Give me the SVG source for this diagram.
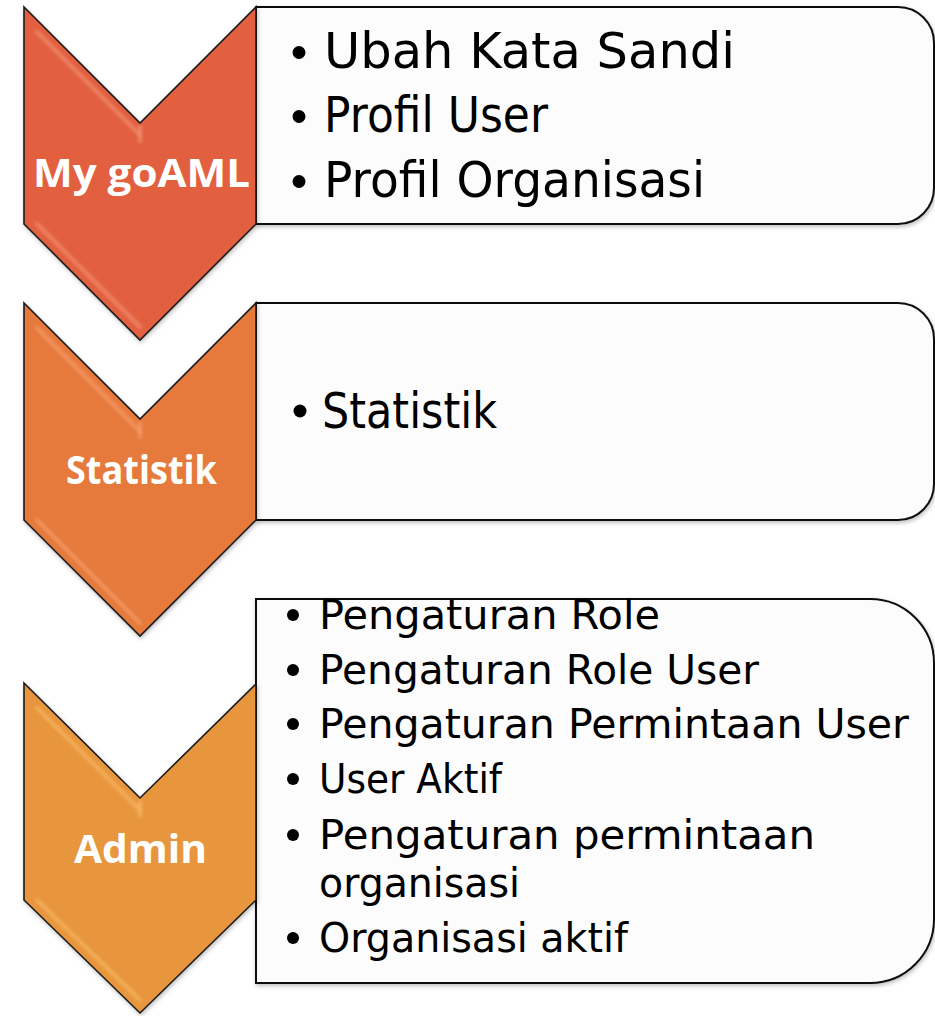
<svg xmlns="http://www.w3.org/2000/svg" width="935" height="1016" viewBox="0 0 935 1016">
  <defs>
    <filter id="shadow" x="-10%" y="-10%" width="120%" height="120%">
      <feDropShadow dx="1" dy="2" stdDeviation="2" flood-color="#000000" flood-opacity="0.25"/>
    </filter>
    <filter id="soft" x="-20%" y="-20%" width="140%" height="140%">
      <feGaussianBlur stdDeviation="1.4"/>
    </filter>
  </defs>
  <style>
    .chev { stroke: #1a1a1a; stroke-width: 1.6; stroke-linejoin: miter; }
    .box { fill: #fcfcfc; stroke: #111111; stroke-width: 2; }
    .hl { fill: none; stroke-width: 4; stroke-linecap: round; opacity: 0.55; }
    .lbl { font-family: "Open Sans", "DejaVu Sans", sans-serif; font-weight: bold; font-size: 40px; fill: #ffffff; }
    .t1 { font-family: "DejaVu Sans", "Liberation Sans", sans-serif; font-size: 49px; fill: #000000; }
    .t3 { font-family: "DejaVu Sans", "Liberation Sans", sans-serif; font-size: 40px; fill: #000000; }
    .dot { fill: #000000; }
  </style>

  <rect width="935" height="1016" fill="#ffffff"/>

  <!-- Node 1: My goAML -->
  <g id="node-mygoaml">
    <path class="box" filter="url(#shadow)" d="M256,7 H898 A36,36 0 0 1 934,43 V188 A36,36 0 0 1 898,224 H256 Z"/>
    <path class="chev" filter="url(#shadow)" fill="#e2603f" d="M24,7 L140,123 L256,7 L256,224 L140,340 L24,224 Z"/>
    <g filter="url(#soft)">
      <path class="hl" stroke="#f59a7c" d="M37,32 L140,135"/>
      <path class="hl" stroke="#f59a7c" d="M37,224 L140,327"/>
      <path class="hl" stroke="#f59a7c" d="M140,127 L140,141" opacity="0.4"/>
    </g>
    <text class="lbl" x="33" y="187" textLength="217" lengthAdjust="spacingAndGlyphs">My goAML</text>
    <circle class="dot" cx="299" cy="52.5" r="6.5"/>
    <text class="t1" x="324" y="68" textLength="411" lengthAdjust="spacingAndGlyphs">Ubah Kata Sandi</text>
    <circle class="dot" cx="299" cy="116.5" r="6.5"/>
    <text class="t1" x="324" y="132" textLength="224" lengthAdjust="spacingAndGlyphs">Profil User</text>
    <circle class="dot" cx="299" cy="181.5" r="6.5"/>
    <text class="t1" x="324" y="197" textLength="381" lengthAdjust="spacingAndGlyphs">Profil Organisasi</text>
  </g>

  <!-- Node 2: Statistik -->
  <g id="node-statistik">
    <path class="box" filter="url(#shadow)" d="M256,303 H898 A36,36 0 0 1 934,339 V484 A36,36 0 0 1 898,520 H256 Z"/>
    <path class="chev" filter="url(#shadow)" fill="#e67a3e" d="M24,303 L140,419 L256,303 L256,520 L140,636 L24,520 Z"/>
    <g filter="url(#soft)">
      <path class="hl" stroke="#f8a672" d="M37,328 L140,431"/>
      <path class="hl" stroke="#f8a672" d="M37,520 L140,623"/>
      <path class="hl" stroke="#f8a672" d="M140,423 L140,437" opacity="0.4"/>
    </g>
    <text class="lbl" x="66" y="484" textLength="151" lengthAdjust="spacingAndGlyphs">Statistik</text>
    <circle class="dot" cx="300" cy="411" r="6.5"/>
    <text class="t1" x="322" y="428" textLength="175" lengthAdjust="spacingAndGlyphs">Statistik</text>
  </g>

  <!-- Node 3: Admin -->
  <g id="node-admin">
    <path class="box" filter="url(#shadow)" d="M256,599 H870 A64,64 0 0 1 934,663 V919 A64,64 0 0 1 870,983 H256 Z"/>
    <path class="chev" filter="url(#shadow)" fill="#e8963c" d="M24,683 L140,798 L256,684 L256,900 L140,1013 L24,900 Z"/>
    <g filter="url(#soft)">
      <path class="hl" stroke="#fbbf6e" d="M37,708 L140,810"/>
      <path class="hl" stroke="#fbbf6e" d="M37,900 L140,1000"/>
      <path class="hl" stroke="#fbbf6e" d="M140,802 L140,816" opacity="0.4"/>
    </g>
    <text class="lbl" x="74" y="863" textLength="133" lengthAdjust="spacingAndGlyphs">Admin</text>
    <circle class="dot" cx="293" cy="615" r="6"/>
    <text class="t3" x="319" y="629" textLength="341" lengthAdjust="spacingAndGlyphs">Pengaturan Role</text>
    <circle class="dot" cx="293" cy="670" r="6"/>
    <text class="t3" x="319" y="684" textLength="440" lengthAdjust="spacingAndGlyphs">Pengaturan Role User</text>
    <circle class="dot" cx="293" cy="724" r="6"/>
    <text class="t3" x="319" y="738" textLength="590" lengthAdjust="spacingAndGlyphs">Pengaturan Permintaan User</text>
    <circle class="dot" cx="293" cy="779" r="6"/>
    <text class="t3" x="319" y="793" textLength="183" lengthAdjust="spacingAndGlyphs">User Aktif</text>
    <circle class="dot" cx="293" cy="835" r="6"/>
    <text class="t3" x="319" y="849" textLength="496" lengthAdjust="spacingAndGlyphs">Pengaturan permintaan</text>
    <text class="t3" x="319" y="897" textLength="201" lengthAdjust="spacingAndGlyphs">organisasi</text>
    <circle class="dot" cx="293" cy="938" r="6"/>
    <text class="t3" x="319" y="952" textLength="309" lengthAdjust="spacingAndGlyphs">Organisasi aktif</text>
  </g>

  <g id="connectors"></g>
</svg>
